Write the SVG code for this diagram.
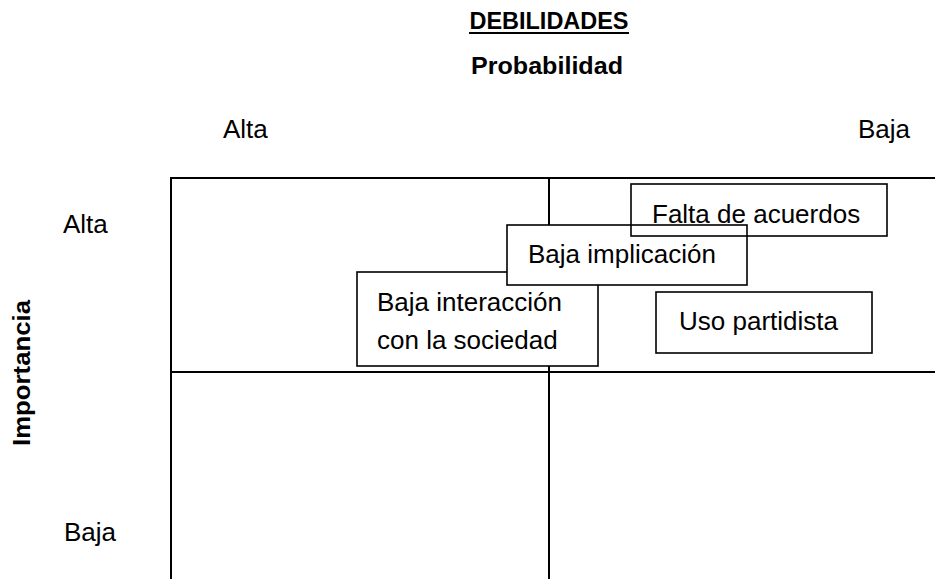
<svg xmlns="http://www.w3.org/2000/svg" width="935" height="579" viewBox="0 0 935 579">
<style>
.t{font-family:"Liberation Sans",Arial,sans-serif;font-size:26px;fill:#000}
.b{font-family:"Liberation Sans",Arial,sans-serif;font-size:24px;font-weight:bold;fill:#000}
.grid{stroke:#000;stroke-width:2;fill:none}
.box{stroke:#000;stroke-width:1.6;fill:#fff}
.boxn{stroke:#000;stroke-width:1.6;fill:none}
</style>
<rect width="935" height="579" fill="#fff"/>
<g id="titles">
<text class="b" x="549" y="29" text-anchor="middle" textLength="159" lengthAdjust="spacingAndGlyphs">DEBILIDADES</text>
<line x1="469" y1="33" x2="629" y2="33" stroke="#000" stroke-width="2"/>
<text class="b" x="547" y="74" text-anchor="middle" textLength="152" lengthAdjust="spacingAndGlyphs">Probabilidad</text>
<text class="t" x="223" y="138">Alta</text>
<text class="t" x="858" y="138">Baja</text>
<text class="t" x="63" y="233">Alta</text>
<text class="t" x="64" y="541">Baja</text>
<text class="b" transform="translate(30,373) rotate(-90)" text-anchor="middle" textLength="146" lengthAdjust="spacingAndGlyphs">Importancia</text>
</g>
<g id="grid">
<line class="grid" x1="171" y1="178" x2="935" y2="178"/>
<line class="grid" x1="171" y1="177" x2="171" y2="579"/>
<line class="grid" x1="549" y1="178" x2="549" y2="579"/>
<line class="grid" x1="171" y1="372" x2="935" y2="372"/>
</g>
<g id="baja-interaccion">
<rect class="box" x="357" y="272" width="241" height="94"/>
<text class="t" x="377" y="311">Baja interacción</text>
<text class="t" x="377" y="349">con la sociedad</text>
</g>
<g id="baja-implicacion">
<rect class="box" x="507" y="225" width="240" height="60"/>
<text class="t" x="528" y="263">Baja implicación</text>
</g>
<g id="falta-acuerdos">
<rect class="boxn" x="631" y="184" width="256" height="52"/>
<text class="t" x="652" y="223">Falta de acuerdos</text>
</g>
<g id="uso-partidista">
<rect class="box" x="656" y="292" width="216" height="61"/>
<text class="t" x="679" y="330">Uso partidista</text>
</g>
</svg>
